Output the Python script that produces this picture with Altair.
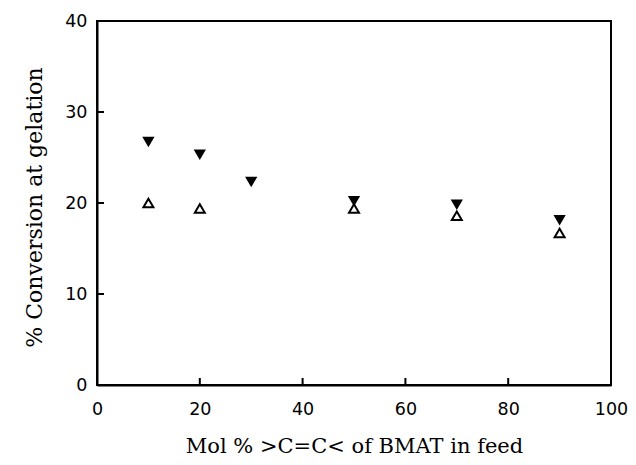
import altair as alt
import pandas as pd

# data
x_filled = [10, 20, 30, 50, 70, 90]
y_filled = [26.7, 25.3, 22.3, 20.2, 19.8, 18.1]
x_open = [10, 20, 50, 70, 90]
y_open = [20.0, 19.4, 19.4, 18.6, 16.7]
x_ticks = [20, 40, 60, 80]
y_ticks = [10, 20, 30]

W, H = 514, 364

filled = pd.DataFrame({"x": x_filled, "y": y_filled})
opened = pd.DataFrame({"x": x_open, "y": y_open})
xt = pd.DataFrame({"x": x_ticks})
yt = pd.DataFrame({"y": y_ticks})

xscale = alt.Scale(domain=[0, 100], nice=False)
yscale = alt.Scale(domain=[0, 40], nice=False)

label_font = "DejaVu Sans"
title_font = "DejaVu Serif"

xaxis = alt.Axis(
    title="Mol % >C=C< of BMAT in feed",
    values=[0, 20, 40, 60, 80, 100],
    ticks=False, tickSize=0, grid=False,
    labelFont=label_font, labelFontSize=17.5, labelColor="black",
    labelPadding=15, labelFlush=False,
    domainColor="black", domainWidth=2,
    titleFont=title_font, titleFontSize=21, titleFontWeight="normal",
    titleColor="black", titleBaseline="alphabetic", titleY=67,
)
yaxis = alt.Axis(
    title="% Conversion at gelation",
    values=[0, 10, 20, 30, 40],
    ticks=False, tickSize=0, grid=False,
    labelFont=label_font, labelFontSize=17.5, labelColor="black",
    labelPadding=10, labelFlush=False,
    domainColor="black", domainWidth=2,
    titleFont=title_font, titleFontSize=22, titleFontWeight="normal",
    titleColor="black", titleBaseline="alphabetic", titleAngle=-90,
    titleX=-56, titleY=186, titleAlign="center",
)

base_filled = alt.Chart(filled).mark_point(
    shape="triangle-down", filled=True, color="black", size=150, opacity=1
).encode(
    x=alt.X("x:Q", scale=xscale, axis=xaxis),
    y=alt.Y("y:Q", scale=yscale, axis=yaxis),
)

base_open = alt.Chart(opened).mark_point(
    shape="triangle-up", filled=False, color="black", size=100,
    strokeWidth=2, opacity=1
).encode(
    x=alt.X("x:Q", scale=xscale),
    y=alt.Y("y:Q", scale=yscale),
)

xtick_marks = alt.Chart(xt).mark_rule(color="black", strokeWidth=2).encode(
    x=alt.X("x:Q", scale=xscale),
    y=alt.value(H),
    y2=alt.value(H - 7),
)
ytick_marks = alt.Chart(yt).mark_rule(color="black", strokeWidth=2).encode(
    y=alt.Y("y:Q", scale=yscale),
    x=alt.value(0),
    x2=alt.value(7),
)

chart = alt.layer(xtick_marks, ytick_marks, base_open, base_filled).properties(
    width=W, height=H,
    autosize=alt.AutoSizeParams(type="none"),
    padding={"left": 89, "top": 13, "right": 17, "bottom": 71},
    background="white",
).configure_view(stroke="black", strokeWidth=2)

chart.save("out.html", embed_options={"renderer": "svg", "actions": False})
